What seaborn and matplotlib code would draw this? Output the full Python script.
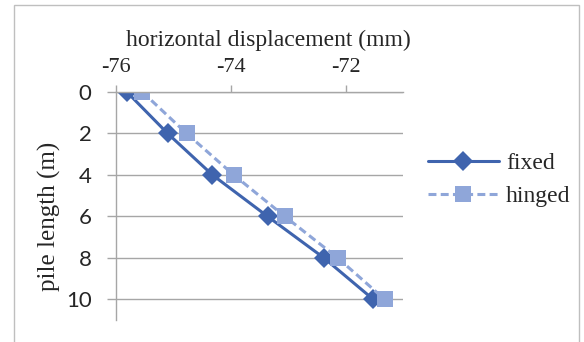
import matplotlib
matplotlib.use("Agg")
import matplotlib.pyplot as plt
from matplotlib.patches import Rectangle
import seaborn as sns
import pandas as pd

# Pile length stations (m) and horizontal displacement (mm) per head condition
depth = [0, 2, 4, 6, 8, 10]
fixed = [-75.81, -75.10, -74.32, -73.36, -72.38, -71.52]
hinged = [-75.54, -74.77, -73.95, -73.06, -72.14, -71.32]
x_ticks = [-76, -74, -72]
y_ticks = [0, 2, 4, 6, 8, 10]

df = pd.DataFrame({
    "depth": depth * 2,
    "disp": fixed + hinged,
    "case": ["fixed"] * len(depth) + ["hinged"] * len(depth),
})

sns.set_theme(style="white")
plt.rcParams["font.family"] = ["Liberation Serif", "DejaVu Serif"]
plt.rcParams["axes.unicode_minus"] = False

fig = plt.figure(figsize=(5.84, 3.42), dpi=100)
fig.patch.set_facecolor("white")
# outer chart frame
fig.patches.append(Rectangle((14 / 584, -0.01), (579 - 14) / 584, 1 - 5 / 342 + 0.01,
                             transform=fig.transFigure, fill=False,
                             edgecolor="#BFBFBF", linewidth=1.0))

ax = fig.add_axes([116 / 584, 1 - 320 / 342, (403 - 116) / 584, (320 - 92) / 342])

palette = {"fixed": "#3F64AE", "hinged": "#8FA6D9"}
dash = (2.6, 1.4)
sns.lineplot(data=df, x="disp", y="depth", hue="case", style="case",
             palette=palette, markers={"fixed": "D", "hinged": "s"},
             dashes={"fixed": "", "hinged": dash},
             sort=False, linewidth=2.2, ax=ax, legend=False)
for line, ms in zip(ax.lines, [10.5, 12]):
    line.set_markersize(ms)
    line.set_markeredgewidth(0)

ax.set_xlim(-76, -71)
ax.set_ylim(11, 0)
ax.set_xticks(x_ticks)
ax.set_yticks(y_ticks)
ax.xaxis.tick_top()
ax.xaxis.set_label_position("top")
ax.yaxis.grid(True, color="#A6A6A6", linewidth=1.0)
ax.xaxis.grid(False)
ax.set_axisbelow(True)

for side in ["right", "bottom"]:
    ax.spines[side].set_visible(False)
for side in ["left", "top"]:
    ax.spines[side].set_color("#A6A6A6")
    ax.spines[side].set_linewidth(1.0)

ax.tick_params(axis="x", which="major", direction="out", length=5, width=1,
               color="#A6A6A6", labelsize=16, pad=6, top=True, bottom=False)
ax.tick_params(axis="y", which="major", direction="out", length=6.5, width=1,
               color="#A6A6A6", labelsize=16, pad=11, left=True)
for lab in ax.get_yticklabels():
    lab.set_fontfamily(["Lato", "DejaVu Sans"])

ax.set_xlabel("horizontal displacement (mm)", fontsize=17, labelpad=8.5)
ax.xaxis.label.set_x(0.53)
ax.set_ylabel("pile length (m)", fontsize=18)
ax.yaxis.set_label_coords(-0.19, 0.456)

handles = [
    plt.Line2D([], [], color=palette["fixed"], marker="D", markersize=10.5,
               markeredgewidth=0, linewidth=2.2),
    plt.Line2D([], [], color=palette["hinged"], marker="s", markersize=12,
               markeredgewidth=0, linewidth=2.2, dashes=dash),
]
fig.legend(handles, ["fixed", "hinged"], loc="center left",
           bbox_to_anchor=(428 / 584, 1 - 180 / 342), frameon=False,
           borderpad=0, borderaxespad=0,
           fontsize=17, handlelength=3.0, handletextpad=0.3, labelspacing=0.5)

fig.savefig("out.png", dpi=100, facecolor="white")
